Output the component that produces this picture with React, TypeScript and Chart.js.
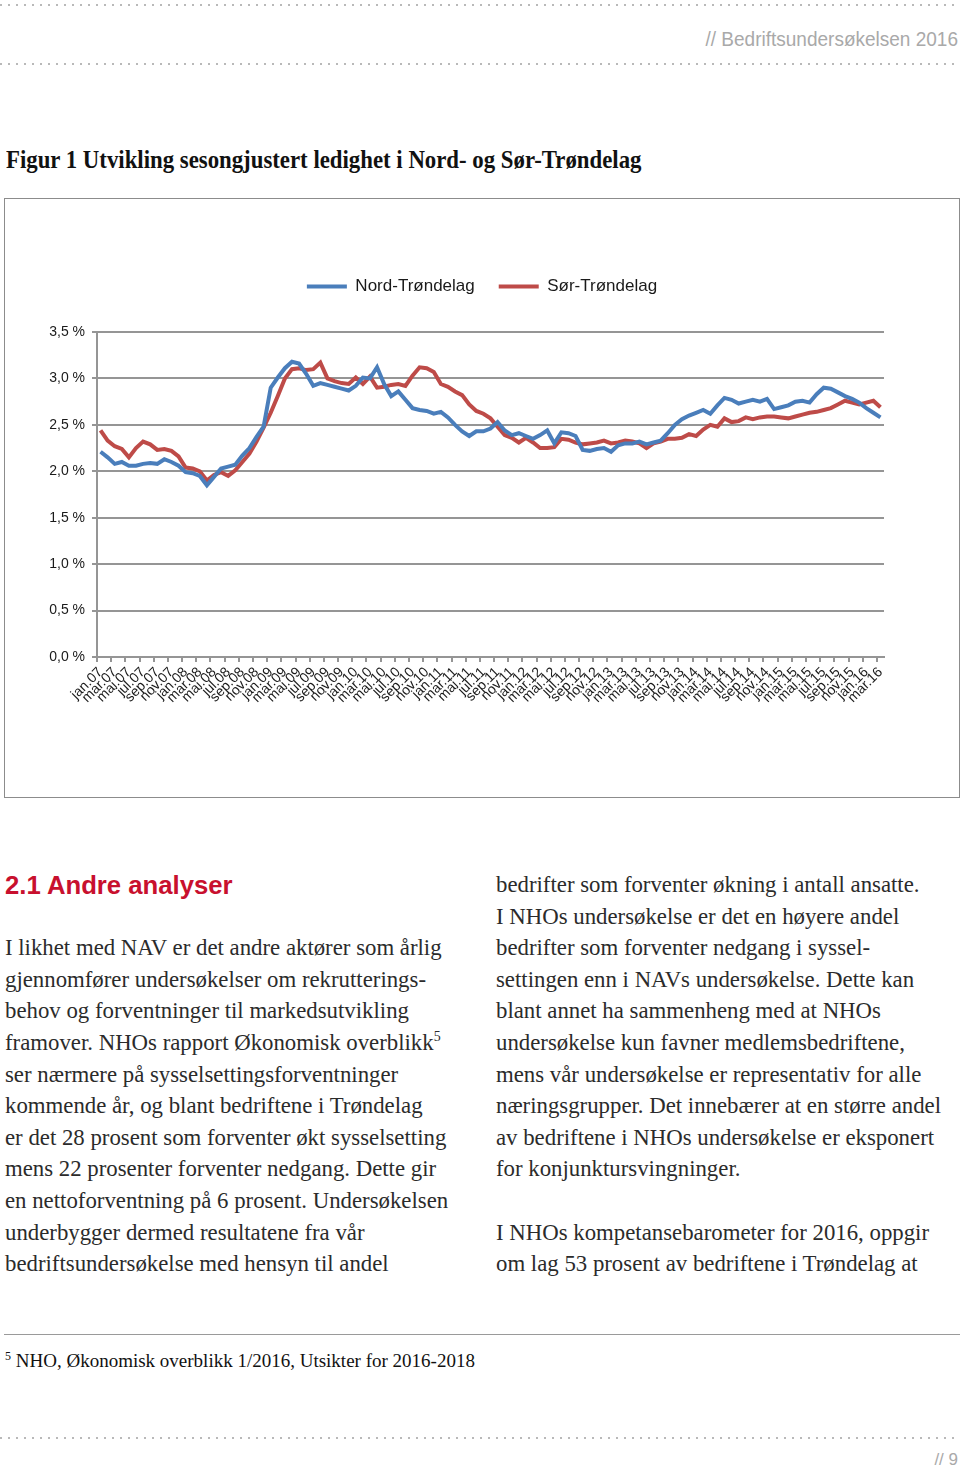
import React, { useEffect, useRef } from "react";
import { Chart, registerables } from "chart.js";

Chart.register(...registerables);

const monthNames = ["jan", "feb", "mar", "apr", "mai", "jun", "jul", "aug", "sep", "okt", "nov", "des"];
const years = ["07", "08", "09", "10", "11", "12", "13", "14", "15", "16"];
const lastMonthCount = 111; // jan.07 .. mar.16

const categories: string[] = [];
for (const y of years) {
  for (const m of monthNames) {
    if (categories.length < lastMonthCount) categories.push(`${m}.${y}`);
  }
}

const nordTrondelag = [
  2.21, 2.15, 2.08, 2.10, 2.06, 2.06, 2.08, 2.09, 2.08, 2.13, 2.10, 2.06,
  1.99, 1.98, 1.95, 1.85, 1.94, 2.03, 2.05, 2.07, 2.17, 2.25, 2.37, 2.48,
  2.90, 3.01, 3.11, 3.18, 3.16, 3.05, 2.92, 2.95, 2.93, 2.91, 2.89, 2.87,
  2.92, 3.01, 3.00, 3.12, 2.94, 2.81, 2.86, 2.77, 2.68, 2.66, 2.65, 2.62,
  2.64, 2.58, 2.50, 2.43, 2.38, 2.43, 2.43, 2.46, 2.53, 2.44, 2.39, 2.41,
  2.38, 2.35, 2.39, 2.44, 2.30, 2.42, 2.41, 2.38, 2.23, 2.22, 2.24, 2.25,
  2.21, 2.28, 2.30, 2.30, 2.32, 2.29, 2.31, 2.33, 2.41, 2.50, 2.56, 2.60,
  2.63, 2.66, 2.62, 2.71, 2.79, 2.77, 2.73, 2.75, 2.77, 2.75, 2.78, 2.67,
  2.69, 2.71, 2.75, 2.76, 2.74, 2.83, 2.90, 2.89, 2.85, 2.81, 2.78, 2.74,
  2.68, 2.63, 2.58,
];

const sorTrondelag = [
  2.44, 2.33, 2.27, 2.24, 2.15, 2.25, 2.32, 2.29, 2.23, 2.24, 2.22, 2.16,
  2.04, 2.03, 2.00, 1.90, 1.96, 1.99, 1.95, 2.01, 2.10, 2.19, 2.32, 2.47,
  2.63, 2.81, 3.00, 3.10, 3.11, 3.09, 3.10, 3.17, 3.00, 2.97, 2.95, 2.94,
  3.01, 2.94, 3.02, 2.90, 2.91, 2.93, 2.94, 2.92, 3.03, 3.12, 3.11, 3.07,
  2.94, 2.91, 2.86, 2.82, 2.72, 2.65, 2.62, 2.57, 2.48, 2.39, 2.36, 2.31,
  2.36, 2.31, 2.25, 2.25, 2.26, 2.35, 2.34, 2.31, 2.29, 2.30, 2.31, 2.33,
  2.30, 2.31, 2.33, 2.32, 2.30, 2.25, 2.30, 2.32, 2.35, 2.35, 2.36, 2.40,
  2.38, 2.45, 2.50, 2.48, 2.57, 2.53, 2.54, 2.58, 2.56, 2.58, 2.59, 2.59,
  2.58, 2.57, 2.59, 2.61, 2.63, 2.64, 2.66, 2.68, 2.72, 2.76, 2.74, 2.72,
  2.74, 2.76, 2.69,
];

const seriesNames = ["Nord-Trøndelag", "Sør-Trøndelag"];
const seriesColors = ["#4a7ebb", "#be4b48"];
const yMin = 0;
const yMax = 3.5;
const yStep = 0.5;

const leftLines = [
  "I likhet med NAV er det andre aktører som årlig",
  "gjennomfører undersøkelser om rekrutterings-",
  "behov og forventninger til markedsutvikling",
  "framover. NHOs rapport Økonomisk overblikk",
  "ser nærmere på sysselsettingsforventninger",
  "kommende år, og blant bedriftene i Trøndelag",
  "er det 28 prosent som forventer økt sysselsetting",
  "mens 22 prosenter forventer nedgang. Dette gir",
  "en nettoforventning på 6 prosent. Undersøkelsen",
  "underbygger dermed resultatene fra vår",
  "bedriftsundersøkelse med hensyn til andel",
];
const leftTops = [949, 981, 1012, 1044, 1076, 1107, 1139, 1170, 1202, 1234, 1265];

const rightLines = [
  "bedrifter som forventer økning i antall ansatte.",
  "I NHOs undersøkelse er det en høyere andel",
  "bedrifter som forventer nedgang i syssel-",
  "settingen enn i NAVs undersøkelse. Dette kan",
  "blant annet ha sammenheng med at NHOs",
  "undersøkelse kun favner medlemsbedriftene,",
  "mens vår undersøkelse er representativ for alle",
  "næringsgrupper. Det innebærer at en større andel",
  "av bedriftene i NHOs undersøkelse er eksponert",
  "for konjunktursvingninger.",
  "I NHOs kompetansebarometer for 2016, oppgir",
  "om lag 53 prosent av bedriftene i Trøndelag at",
];
const rightTops = [886, 918, 949, 981, 1012, 1044, 1076, 1107, 1139, 1170, 1234, 1265];

const dotted = (top: number): React.CSSProperties => ({
  position: "absolute",
  left: 0,
  top,
  width: 960,
  height: 2,
  backgroundImage: "linear-gradient(to right, #b9b9b9 2px, transparent 2px)",
  backgroundSize: "8px 2px",
});

function LineChart() {
  const ref = useRef<HTMLCanvasElement | null>(null);
  useEffect(() => {
    if (!ref.current) return;
    const axisColor = "#959595";
    const font = { family: '"Liberation Sans", Arial, sans-serif' };
    const legendSpacer = {
      id: "legendSpacer",
      afterInit(chart: any) {
        const lg = chart.legend;
        if (!lg) return;
        const orig = lg.fit.bind(lg);
        lg.fit = function () {
          orig();
          lg.height += 27;
        };
      },
    };
    const chart = new Chart(ref.current, {
      type: "line",
      data: {
        labels: categories,
        datasets: [
          {
            label: seriesNames[0],
            data: nordTrondelag,
            borderColor: seriesColors[0],
            backgroundColor: seriesColors[0],
            borderWidth: 4,
            pointRadius: 0,
            tension: 0,
          },
          {
            label: seriesNames[1],
            data: sorTrondelag,
            borderColor: seriesColors[1],
            backgroundColor: seriesColors[1],
            borderWidth: 4,
            pointRadius: 0,
            tension: 0,
          },
        ],
      },
      options: {
        animation: false,
        responsive: false,
        maintainAspectRatio: false,
        layout: { padding: { top: 55, right: 0, bottom: 0, left: 0 } },
        plugins: {
          tooltip: { enabled: false },
          legend: {
            display: true,
            position: "top",
            labels: {
              usePointStyle: true,
              pointStyle: "line",
              pointStyleWidth: 40,
              padding: 24,
              color: "#1a1a1a",
              font: { ...font, size: 17 },
            },
          },
        },
        scales: {
          x: {
            type: "category",
            offset: true,
            afterFit(scale: any) {
              scale.height = 140;
            },
            grid: {
              offset: true,
              drawOnChartArea: false,
              drawTicks: true,
              tickLength: 5,
              lineWidth: 2,
              color: (ctx: any) => (ctx.index % 2 === 0 ? axisColor : "rgba(0,0,0,0)"),
            },
            border: { display: true, color: axisColor, width: 2 },
            ticks: {
              autoSkip: false,
              maxRotation: 45,
              minRotation: 45,
              padding: 2,
              color: "#1a1a1a",
              font: { ...font, size: 14 },
              callback: (_v: any, i: number) => (i % 2 === 0 ? categories[i] : ""),
            },
          },
          y: {
            min: yMin,
            max: yMax,
            afterFit(scale: any) {
              scale.width = 92;
            },
            grid: {
              color: axisColor,
              lineWidth: 2,
              drawTicks: true,
              tickLength: 5,
            },
            border: { display: true, color: axisColor, width: 2 },
            ticks: {
              stepSize: yStep,
              padding: 7,
              color: "#1a1a1a",
              font: { ...font, size: 14 },
              callback: (v: any) => Number(v).toFixed(1).replace(".", ",") + " %",
            },
          },
          spacerRight: {
            type: "linear",
            position: "right",
            display: true,
            afterFit(scale: any) {
              scale.width = 75;
            },
            grid: { display: false, drawTicks: false },
            border: { display: false },
            ticks: { display: false },
          },
        },
      },
      plugins: [legendSpacer],
    });
    return () => chart.destroy();
  }, []);
  return <canvas ref={ref} width={954} height={598} style={{ display: "block", width: 954, height: 598 }} />;
}

const bodyText: React.CSSProperties = {
  position: "absolute",
  fontFamily: '"Liberation Serif", "Times New Roman", serif',
  fontSize: 22.8,
  lineHeight: "32px",
  color: "#2b2b2b",
  whiteSpace: "nowrap",
};

export default function App() {
  return (
    <div
      style={{
        position: "absolute",
        left: 0,
        top: 0,
        width: 960,
        height: 1467,
        background: "#fff",
        overflow: "hidden",
      }}
    >
      <div style={dotted(4)} />
      <div
        style={{
          position: "absolute",
          right: 2,
          top: 26,
          fontFamily: '"Liberation Sans", Arial, sans-serif',
          fontSize: 21,
          lineHeight: "26px",
          color: "#a9a9a9",
          whiteSpace: "nowrap",
          transform: "scaleX(0.905)",
          transformOrigin: "right center",
        }}
      >
        // Bedriftsundersøkelsen 2016
      </div>
      <div style={dotted(63)} />

      <div
        style={{
          position: "absolute",
          left: 6,
          top: 144,
          fontFamily: '"Liberation Serif", "Times New Roman", serif',
          fontWeight: "bold",
          fontSize: 25,
          lineHeight: "32px",
          color: "#111",
          whiteSpace: "nowrap",
          transform: "scaleX(0.912)",
          transformOrigin: "left center",
        }}
      >
        Figur 1 Utvikling sesongjustert ledighet i Nord- og Sør-Trøndelag
      </div>

      <div
        style={{
          position: "absolute",
          left: 4,
          top: 198,
          width: 954,
          height: 598,
          border: "1px solid #8c8c8c",
        }}
      >
        <LineChart />
      </div>

      <div
        style={{
          position: "absolute",
          left: 5,
          top: 869,
          fontFamily: '"Liberation Sans", Arial, sans-serif',
          fontWeight: "bold",
          fontSize: 25.7,
          lineHeight: "32px",
          color: "#c8102e",
          whiteSpace: "nowrap",
        }}
      >
        2.1 Andre analyser
      </div>

      {leftLines.map((t, i) => (
        <div key={"l" + i} style={{ ...bodyText, left: 5, top: leftTops[i] - 17 }}>
          {t}
          {i === 3 ? <sup style={{ fontSize: 14, lineHeight: 0 }}>5</sup> : null}
        </div>
      ))}
      {rightLines.map((t, i) => (
        <div key={"r" + i} style={{ ...bodyText, left: 496, top: rightTops[i] - 17 }}>
          {t}
        </div>
      ))}

      <div style={{ position: "absolute", left: 4, top: 1334, width: 956, height: 1, background: "#9a9a9a" }} />
      <div
        style={{
          position: "absolute",
          left: 5,
          top: 1347,
          fontFamily: '"Liberation Serif", "Times New Roman", serif',
          fontSize: 19,
          lineHeight: "28px",
          color: "#111",
          whiteSpace: "nowrap",
        }}
      >
        <sup style={{ fontSize: 12, lineHeight: 0 }}>5</sup> NHO, Økonomisk overblikk 1/2016, Utsikter for 2016-2018
      </div>

      <div style={dotted(1437)} />
      <div
        style={{
          position: "absolute",
          right: 2,
          top: 1449,
          fontFamily: '"Liberation Sans", Arial, sans-serif',
          fontSize: 17,
          lineHeight: "22px",
          color: "#a9a9a9",
          whiteSpace: "nowrap",
        }}
      >
        // 9
      </div>
    </div>
  );
}
